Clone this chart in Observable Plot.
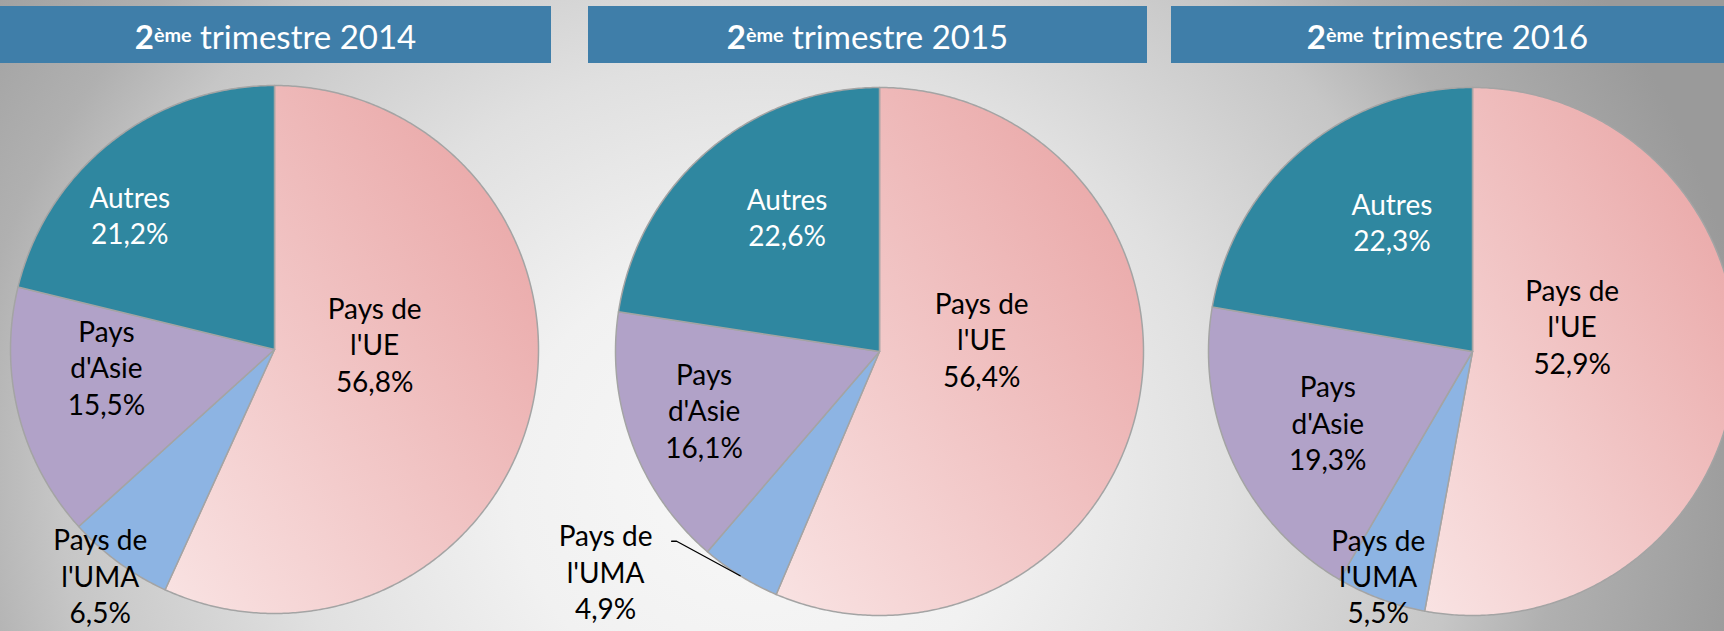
<!DOCTYPE html>
<html><head><meta charset="utf-8">
<script src="https://cdn.jsdelivr.net/npm/d3@7"></script>
<script src="https://cdn.jsdelivr.net/npm/@observablehq/plot@0.6"></script>
<style>
html,body{margin:0;padding:0;overflow:hidden;background:#ccc;}
#wrap{position:relative;width:1724px;height:631px;overflow:hidden;
background: radial-gradient(ellipse 1000px 900px at 760px 480px, #f8f8f8 0%, #f1f1f1 25%, #e0e0e0 47%, #c6c6c6 70%, #b0b0b0 80%, #9a9a9a 100%);}
#wrap svg{position:absolute;left:0;top:0;}
.bar{position:absolute;top:6px;height:57px;box-sizing:border-box;padding-top:2px;background:#3f7ea9;color:#fff;font:33px Lato, sans-serif;display:flex;align-items:center;justify-content:center;z-index:2;}
.bar b{font-weight:700;}
.bar sup{font-size:0.6em;line-height:0;position:relative;top:-0.1em;font-weight:700;}
</style></head>
<body>
<div id="wrap"></div>
<script>
// ---- data ----
const categories = ["Pays de l'UE", "Pays de l'UMA", "Pays d'Asie", "Autres"];
const labelNames = ["Pays de\nl'UE", "Pays de\nl'UMA", "Pays\nd'Asie", "Autres"];
const years = ["2014", "2015", "2016"];
const share2014 = [56.8, 6.5, 15.5, 21.2];
const share2015 = [56.4, 4.9, 16.1, 22.6];
const share2016 = [52.9, 5.5, 19.3, 22.3];
const shares = [share2014, share2015, share2016];

// ---- layout & style ----
const W = 1724, H = 631;
const panels = [
  {cx: 274, cy: 349, r: 264, bar: [0, 551]},
  {cx: 879, cy: 351, r: 264, bar: [588, 1147]},
  {cx: 1472, cy: 351, r: 264, bar: [1171, 1724]}
];
// label placement per slice: [angle offset (deg) from slice middle, distance as fraction of radius]
const labelPlacement = [
  [[-15.6, 0.38], [1.5, 1.08], [8.4, 0.64], [-8.8, 0.75]],
  [[-18.7, 0.39], [19.4, 1.33], [2, 0.70], [6.3, 0.62]],
  [[-19.8, 0.39], [2.5, 0.92], [-1, 0.61], [8.4, 0.58]]
];
const leaders = [{panel: 1, slice: 1, dx: 66, dy: -30}];
const fills = ["url(#ueGrad)", "#8db4e3", "#b1a2c8", "#2f87a0"];
const labelColors = ["#000", "#000", "#000", "#fff"];

const wrap = document.getElementById("wrap");
years.forEach((y, i) => {
  const b = document.createElement("div");
  b.className = "bar";
  b.style.left = panels[i].bar[0] + "px";
  b.style.width = (panels[i].bar[1] - panels[i].bar[0]) + "px";
  b.innerHTML = "<b>2</b><sup>ème</sup>&nbsp;trimestre " + y;
  wrap.appendChild(b);
});

const pie = d3.pie().sort(null).value(d => d);
const marks = [];
marks.push(() => {
  const defs = d3.create("svg:defs");
  const g = defs.append("linearGradient").attr("id", "ueGrad")
    .attr("x1", 0).attr("y1", 1).attr("x2", 1).attr("y2", 0);
  g.append("stop").attr("offset", "0%").attr("stop-color", "#f9e3e3");
  g.append("stop").attr("offset", "100%").attr("stop-color", "#e8a1a1");
  return defs.node();
});

const labels = [];
const leaderPts = [];
shares.forEach((vals, p) => {
  const {cx, cy, r} = panels[p];
  const arcs = pie(vals);
  arcs.forEach((a, s) => {
    const pts = [{x: cx, y: cy}];
    const n = Math.max(2, Math.ceil((a.endAngle - a.startAngle) / (Math.PI / 360)));
    for (let k = 0; k <= n; k++) {
      const t = a.startAngle + (a.endAngle - a.startAngle) * k / n;
      pts.push({x: cx + r * Math.sin(t), y: cy - r * Math.cos(t)});
    }
    pts.push({x: cx, y: cy});
    marks.push(Plot.line(pts, {x: "x", y: "y", fill: fills[s], stroke: "#a4a4a4", strokeWidth: 1.5, curve: "linear"}));
    const mid = (a.startAngle + a.endAngle) / 2;
    const [off, f] = labelPlacement[p][s];
    const t = mid + off * Math.PI / 180;
    const lx = cx + f * r * Math.sin(t), ly = cy - f * r * Math.cos(t);
    labels.push({x: lx, y: ly, text: labelNames[s] + "\n" + vals[s].toFixed(1).replace(".", ",") + "%", color: labelColors[s]});
    leaders.filter(l => l.panel === p && l.slice === s).forEach(l => {
      const ex = cx + r * Math.sin(mid), ey = cy - r * Math.cos(mid);
      leaderPts.push({x: lx + l.dx, y: ly + l.dy, k: p + "-" + s});
      leaderPts.push({x: lx + l.dx + 5, y: ly + l.dy, k: p + "-" + s});
      leaderPts.push({x: ex, y: ey, k: p + "-" + s});
    });
  });
});
marks.push(Plot.line(leaderPts, {x: "x", y: "y", z: "k", stroke: "#000", strokeWidth: 1.3}));
marks.push(Plot.text(labels, {x: "x", y: "y", text: "text", fill: "color", fontSize: 28, fontFamily: "Lato", lineHeight: 1.3, textAnchor: "middle", lineAnchor: "middle"}));

const chart = Plot.plot({
  width: W, height: H, margin: 0,
  x: {domain: [0, W], range: [0, W], axis: null},
  y: {domain: [0, H], range: [0, H], axis: null},
  style: {background: "transparent", overflow: "visible"},
  marks
});
wrap.appendChild(chart);
</script>
</body></html>
